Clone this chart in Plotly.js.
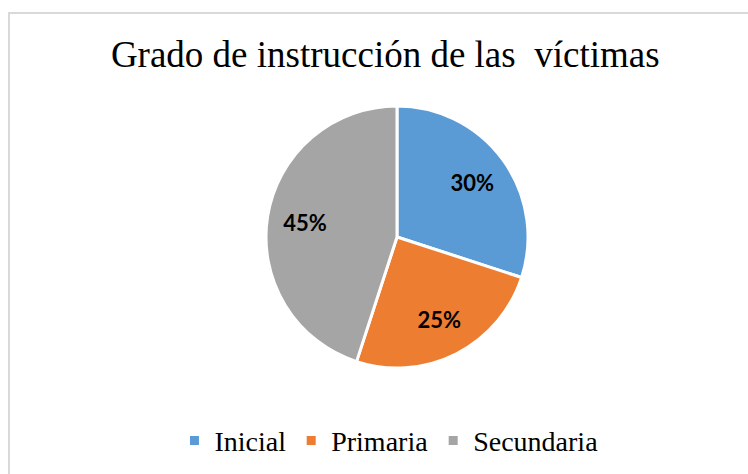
<!DOCTYPE html>
<html><head><meta charset="utf-8">
<script src="https://cdn.plot.ly/plotly-3.0.1.min.js"></script>
<style>
html,body{margin:0;padding:0;background:#fff;}
#wrap{position:relative;width:748px;height:474px;}
#frame{position:absolute;left:8px;top:12px;width:760px;height:480px;border-top:2px solid #d9d9d9;border-left:2px solid #d9d9d9;pointer-events:none;}
#chart{position:absolute;left:0;top:0;width:748px;height:474px;}
</style></head>
<body><div id="wrap"><div id="chart"></div><div id="frame"></div></div>
<script>
const categories = ["Inicial", "Primaria", "Secundaria"];
const values = [30, 25, 45];
const colors = ["#5B9BD5", "#ED7D31", "#A5A5A5"];
const titleText = "Grado de instrucción de las  víctimas";

const dom = {x: [0.3556, 0.7059], y: [0.2236, 0.7764]};
const serif = {family: "Liberation Serif", size: 28, color: "#000000"};
Plotly.newPlot("chart", [{
  type: "pie",
  labels: categories,
  values: values,
  sort: false,
  direction: "clockwise",
  rotation: 0,
  marker: {colors: colors, line: {color: "#ffffff", width: 3}},
  textinfo: "none",
  textfont: serif,
  hoverinfo: "none",
  domain: dom
}, {
  type: "pie",
  labels: categories,
  values: values,
  sort: false,
  direction: "clockwise",
  rotation: 0,
  hole: 0.42,
  showlegend: false,
  marker: {colors: ["rgba(0,0,0,0)", "rgba(0,0,0,0)", "rgba(0,0,0,0)"], line: {width: 0}},
  texttemplate: "<b>%{percent:.0%}</b>",
  textposition: "inside",
  insidetextorientation: "horizontal",
  textfont: serif,
  insidetextfont: {family: "Lato", size: 22, color: "#000000"},
  hoverinfo: "none",
  domain: dom
}], {
  width: 748, height: 474,
  margin: {l: 0, r: 0, t: 0, b: 0},
  paper_bgcolor: "#ffffff",
  font: serif,
  title: {text: titleText, x: 0.515, xanchor: "center", y: 0.885, yanchor: "middle",
          font: {family: "Liberation Serif", size: 37, color: "#000000"}},
  showlegend: true,
  legend: {orientation: "h", x: 0.52, xanchor: "center", y: 0.07, yanchor: "middle",
           font: serif, traceorder: "normal"}
}, {displayModeBar: false, staticPlot: true});
</script></body></html>
